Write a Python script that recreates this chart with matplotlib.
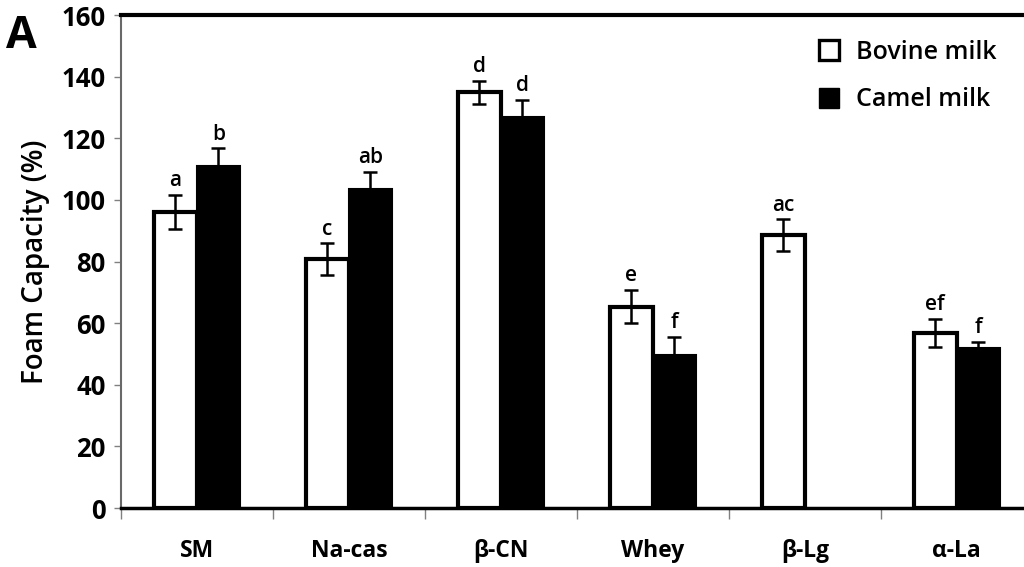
import numpy as np
import matplotlib.pyplot as plt
from matplotlib.lines import Line2D

# data
proteins = ['SM', 'Na-cas', 'β-CN', 'Whey', 'β-Lg', 'α-La']
bovine = [96.2, 80.7, 134.9, 65.3, 88.6, 56.7]
bovine_err = [5.5, 5.2, 3.7, 5.4, 5.1, 4.6]
camel = [111.0, 103.5, 126.9, 49.7, np.nan, 51.8]
camel_err = [5.7, 5.6, 5.5, 5.9, np.nan, 2.2]
bovine_letters = ['a', 'c', 'd', 'e', 'ac', 'ef']
camel_letters = ['b', 'ab', 'd', 'f', '', 'f']

plt.rcParams['font.family'] = ['Open Sans', 'DejaVu Sans']


def main():
    fig = plt.figure(figsize=(10.24, 5.67), dpi=100)
    ax = fig.add_axes([0.118, 0.104, 0.8906, 0.8695])

    x = np.arange(len(proteins))
    w = 0.285
    off = 0.142

    # bars
    ax.bar(x - off, bovine, width=w, color='white', edgecolor='black',
           linewidth=3, zorder=2)
    ax.bar(x + off, camel, width=w, color='black', edgecolor='black',
           linewidth=1.5, zorder=2)

    # error bars
    ax.errorbar(x - off, bovine, yerr=bovine_err, fmt='none', ecolor='black',
                elinewidth=1.8, capsize=5, capthick=1.8, zorder=3)
    ax.errorbar(x + off, camel, yerr=camel_err, fmt='none', ecolor='black',
                elinewidth=1.8, capsize=5, capthick=1.8, zorder=3)

    # significance letters
    for i in range(len(proteins)):
        ax.text(x[i] - off, bovine[i] + bovine_err[i] + 1.2, bovine_letters[i],
                ha='center', va='bottom', fontsize=15, fontweight='semibold')
        if not np.isnan(camel[i]):
            ax.text(x[i] + off, camel[i] + camel_err[i] + 1.2, camel_letters[i],
                    ha='center', va='bottom', fontsize=15,
                    fontweight='semibold')

    ax.set_xlim(-0.5, len(proteins) - 0.5)
    ax.set_ylim(0, 160)
    ax.set_yticks(np.arange(0, 161, 20))
    ax.set_xticks(x)
    ax.set_xticklabels(proteins)
    ax.set_xticks(np.arange(-0.5, len(proteins), 1), minor=True)

    ax.tick_params(axis='y', direction='out', length=5, width=1, color='gray',
                   labelsize=18.5, pad=6)
    ax.tick_params(axis='x', which='major', length=0, labelsize=16.5, pad=22)
    ax.tick_params(axis='x', which='minor', length=8, width=1, color='gray')
    for lab in ax.get_xticklabels() + ax.get_yticklabels():
        lab.set_fontweight('bold')

    # frame
    ax.spines['top'].set_linewidth(3)
    ax.spines['right'].set_linewidth(3)
    ax.spines['bottom'].set_linewidth(2.5)
    ax.spines['left'].set_linewidth(1.5)
    ax.spines['left'].set_color('dimgray')

    ax.set_ylabel('Foam Capacity (%)', fontsize=20, fontweight='semibold',
                  labelpad=8)

    # legend with square markers
    handles = [
        Line2D([], [], marker='s', linestyle='none', markersize=14,
               markerfacecolor='white', markeredgecolor='black',
               markeredgewidth=2.4),
        Line2D([], [], marker='s', linestyle='none', markersize=14,
               markerfacecolor='black', markeredgecolor='black'),
    ]
    leg = ax.legend(handles, ['Bovine milk', 'Camel milk'], loc='upper right',
                    bbox_to_anchor=(0.985, 0.995), frameon=False,
                    handletextpad=0.1, labelspacing=0.9, fontsize=18)
    for t in leg.get_texts():
        t.set_fontweight('semibold')

    fig.text(0.006, 0.975, 'A', fontsize=32, fontweight='bold', va='top',
             ha='left')

    fig.savefig('out.png', dpi=100)


if __name__ == '__main__':
    main()
